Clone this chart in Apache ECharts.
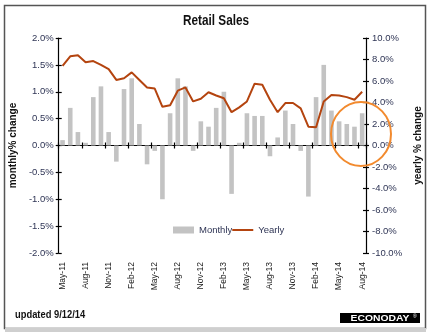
<!DOCTYPE html>
<html><head><meta charset="utf-8">
<script src="https://cdn.jsdelivr.net/npm/echarts@6/dist/echarts.min.js"></script>
<style>html,body{margin:0;padding:0;background:#fff}#c{width:431px;height:335px}</style>
</head><body><div id="c"></div>
<script>
const categories = ['May-11','Jun-11','Jul-11','Aug-11','Sep-11','Oct-11','Nov-11','Dec-11','Jan-12','Feb-12','Mar-12','Apr-12','May-12','Jun-12','Jul-12','Aug-12','Sep-12','Oct-12','Nov-12','Dec-12','Jan-13','Feb-13','Mar-13','Apr-13','May-13','Jun-13','Jul-13','Aug-13','Sep-13','Oct-13','Nov-13','Dec-13','Jan-14','Feb-14','Mar-14','Apr-14','May-14','Jun-14','Jul-14','Aug-14'];
const monthly = [0.1,0.7,0.25,0.05,0.9,1.1,0.25,-0.3,1.05,1.25,0.4,-0.35,-0.1,-1.0,0.6,1.25,1.1,-0.1,0.45,0.35,0.7,1.0,-0.9,0.05,0.6,0.55,0.55,-0.2,0.15,0.65,0.4,-0.1,-0.95,0.9,1.5,0.65,0.45,0.4,0.35,0.6];
const yearly = [7.4,8.3,8.4,7.75,7.85,7.5,7.1,6.1,6.25,6.8,6.1,5.4,5.3,3.6,3.75,5.1,5.4,4.1,4.35,4.95,4.65,4.4,3.1,3.55,4.1,5.75,5.65,4.25,3.1,3.95,3.95,3.45,1.75,1.7,4.1,4.7,4.65,4.5,4.25,5.0];
const leftTicks = {min:-2, max:2, interval:0.5};
const rightTicks = {min:-10, max:10, interval:2};

const FONT = '"Liberation Sans",Arial,sans-serif';
const labCol = '#2f3555';
const chart = echarts.init(document.getElementById('c'), null, {renderer:'canvas'});
const grid = {left:57, right:61, top:38, bottom:82};
const baseY = (pos, t, extra) => Object.assign({
  type:'value', position:pos, min:t.min, max:t.max, interval:t.interval,
  splitLine:{show:false}
}, extra);
const pct = v => v.toFixed(1) + '%';
chart.setOption({
  animation:false,
  grid:grid,
  legend:{left:173, top:225, padding:0, itemWidth:21, itemHeight:7, itemGap:0,
    textStyle:{fontFamily:FONT, fontSize:9.5, color:'#2f3555'},
    data:[{name:'Monthly', icon:'rect'}, {name:'Yearly', icon:'path://M0,0 L21,0 L21,2 L0,2 Z'}]},
  xAxis:[
    {type:'category', data:categories, position:'bottom', boundaryGap:true,
     axisLine:{show:false, onZero:false}, axisTick:{show:false},
     axisLabel:{interval:2, rotate:90, margin:9, fontFamily:FONT, fontSize:8.5, color:'#222'}},
    {type:'category', data:categories, position:'bottom', boundaryGap:true,
     axisLine:{show:true, onZero:true, lineStyle:{color:'#000', width:1.2}},
     axisTick:{show:true, interval:2, length:3, lineStyle:{color:'#000', width:1.2}},
     axisLabel:{show:false}},
    {type:'category', data:categories, position:'top', boundaryGap:true,
     axisLine:{show:false, onZero:true},
     axisTick:{show:true, interval:2, length:3, lineStyle:{color:'#000', width:1.2}},
     axisLabel:{show:false}}
  ],
  yAxis:[
    baseY('left', leftTicks, {name:'monthly% change', nameLocation:'middle', nameGap:37, nameRotate:90,
      nameTextStyle:{fontFamily:FONT, fontSize:10, fontWeight:'bold', color:'#111'},
      axisLine:{show:true, onZero:false, lineStyle:{color:'#000', width:1.2}},
      axisTick:{show:true, length:3, lineStyle:{color:'#000', width:1.2}},
      axisLabel:{formatter:pct, margin:5, fontFamily:FONT, fontSize:9.5, color:labCol}}),
    baseY('right', rightTicks, {name:'yearly % change', nameLocation:'middle', nameGap:39, nameRotate:90,
      nameTextStyle:{fontFamily:FONT, fontSize:10, fontWeight:'bold', color:'#111'},
      axisLine:{show:true, onZero:false, lineStyle:{color:'#000', width:1.2}},
      axisTick:{show:true, length:3, lineStyle:{color:'#000', width:1.2}},
      axisLabel:{formatter:pct, margin:6, fontFamily:FONT, fontSize:9.5, color:labCol}}),
    baseY('left', leftTicks, {axisLine:{show:false, onZero:false},
      axisTick:{show:true, inside:true, length:3, lineStyle:{color:'#000', width:1.2}}, axisLabel:{show:false}}),
    baseY('right', rightTicks, {axisLine:{show:false, onZero:false},
      axisTick:{show:true, inside:true, length:3, lineStyle:{color:'#000', width:1.2}}, axisLabel:{show:false}})
  ],
  series:[
    {name:'Monthly', type:'bar', xAxisIndex:0, yAxisIndex:0, data:monthly, barWidth:4.6,
     itemStyle:{color:'#c3c3c3'}},
    {name:'Yearly', type:'line', xAxisIndex:0, yAxisIndex:1, data:yearly, symbol:'none',
     lineStyle:{color:'#b4440f', width:2}, itemStyle:{color:'#b4440f'}, z:3}
  ],
  graphic:[
    {type:'rect', shape:{x:4.5, y:5.5, width:421, height:323}, style:{fill:'none', stroke:'#555', lineWidth:1.5}, silent:true},
    {type:'rect', shape:{x:5, y:328, width:421, height:4}, style:{fill:'#cfcfcf'}, silent:true},
    {type:'text', x:216, y:13, scaleX:0.76, style:{text:'Retail Sales', textAlign:'center', fontFamily:FONT, fontSize:15.5, fontWeight:'bold', fill:'#111'}},
    {type:'ellipse', shape:{cx:361, cy:134, rx:30, ry:32}, style:{fill:'none', stroke:'#f28a2e', lineWidth:2}, z:100, silent:true},
    {type:'text', x:15, y:309, scaleX:0.85, style:{text:'updated 9/12/14', fontFamily:FONT, fontSize:11, fontWeight:'bold', fill:'#111'}},
    {type:'rect', shape:{x:340, y:313, width:80, height:10}, style:{fill:'#000'}, silent:true},
    {type:'text', x:380, y:314, scaleX:1.15, style:{text:'ECONODAY', textAlign:'center', fontFamily:FONT, fontSize:9, fontWeight:'bold', fill:'#fff'}},
    {type:'text', x:413, y:314, style:{text:'®', fontFamily:FONT, fontSize:5, fill:'#fff'}}
  ]
});
</script></body></html>
